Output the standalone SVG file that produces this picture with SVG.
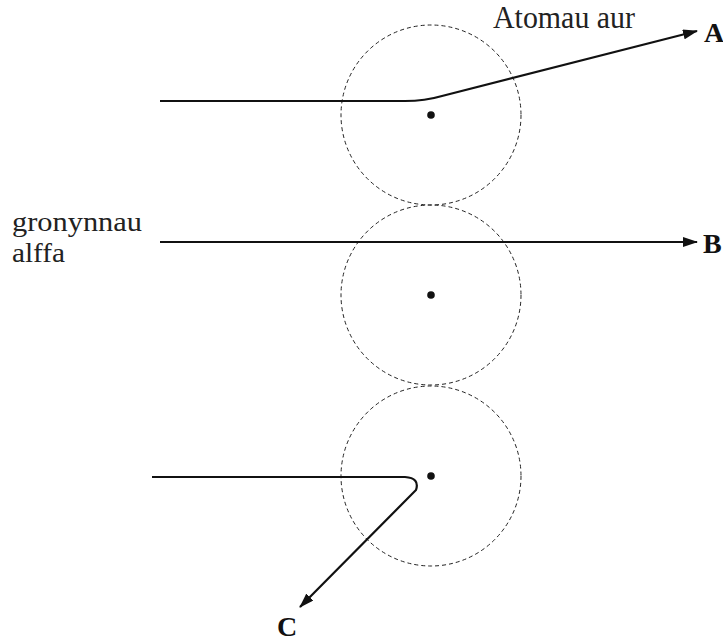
<svg xmlns="http://www.w3.org/2000/svg" width="723" height="642" viewBox="0 0 723 642">
<style>
.atom{fill:none;stroke:#222;stroke-width:1;stroke-dasharray:4,3}
.nuc{fill:#111}
.path{fill:none;stroke:#111;stroke-width:2.2}
.t{font-family:"Liberation Serif","DejaVu Serif",serif;font-size:31px;fill:#222}
.s{font-size:28px}
.b{font-family:"Liberation Serif","DejaVu Serif",serif;font-size:28px;font-weight:bold;fill:#111}
</style>
<defs>
<marker id="ah" viewBox="0 0 15 10" refX="14" refY="5" markerWidth="15" markerHeight="10" markerUnits="userSpaceOnUse" orient="auto">
<path d="M0,0 L15,5 L0,10 Z" fill="#111"/>
</marker>
</defs>
<g id="atom1"><circle class="atom" cx="431" cy="115" r="90"/><circle class="nuc" cx="431" cy="115" r="3.8"/></g>
<g id="atom2"><circle class="atom" cx="431" cy="295" r="90"/><circle class="nuc" cx="431" cy="295" r="3.8"/></g>
<g id="atom3"><circle class="atom" cx="431" cy="476" r="90"/><circle class="nuc" cx="431" cy="476" r="3.8"/></g>
<g id="connectors">
<path class="path" d="M160,101 L405,101 Q425,101 442,96 L697,31" marker-end="url(#ah)"/>
<path class="path" d="M160,242 L697,242" marker-end="url(#ah)"/>
<path class="path" d="M152,477 L405,477 Q420,478 416,490 L300,607" marker-end="url(#ah)"/>
</g>
<text class="t" x="493" y="28" textLength="142" lengthAdjust="spacingAndGlyphs">Atomau aur</text>
<text class="t s" x="12" y="231" textLength="130" lengthAdjust="spacingAndGlyphs">gronynnau</text>
<text class="t s" x="12" y="262" textLength="53" lengthAdjust="spacingAndGlyphs">alffa</text>
<text class="b" x="704" y="42">A</text>
<text class="b" x="703" y="253">B</text>
<text class="b" x="277" y="636">C</text>
</svg>
